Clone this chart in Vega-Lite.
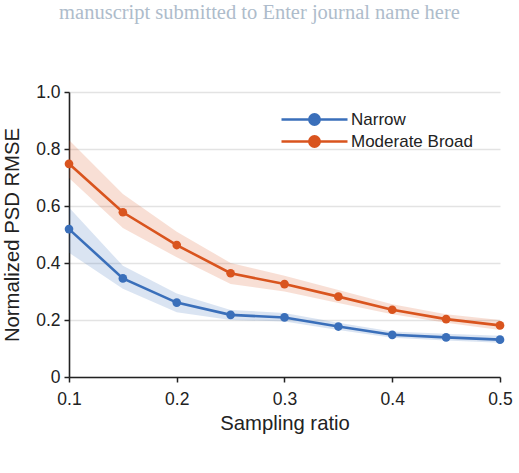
{
  "$schema": "https://vega.github.io/schema/vega-lite/v6.json",
  "width": 431,
  "height": 285,
  "autosize": "none",
  "padding": {"left": 69, "top": 92, "right": 19, "bottom": 96},
  "background": "white",
  "title": {
    "text": "manuscript submitted to Enter journal name here",
    "font": "Liberation Serif",
    "fontSize": 20.5,
    "fontWeight": "normal",
    "color": "#aebccb",
    "anchor": "middle",
    "dx": -25,
    "offset": 60
  },
  "config": {
    "view": {"stroke": null},
    "font": "Liberation Sans",
    "axis": {
      "labelFont": "Liberation Sans",
      "titleFont": "Liberation Sans",
      "labelFontSize": 17.5,
      "titleFontSize": 20.3,
      "labelColor": "#222",
      "titleColor": "#222",
      "titleFontWeight": "normal",
      "domainColor": "#222",
      "domainWidth": 1.6,
      "tickColor": "#222",
      "tickWidth": 1.5,
      "tickSize": 5,
      "gridColor": "#e3e3e3",
      "gridWidth": 1.5,
      "labelFlush": false,
      "labelOverlap": false
    }
  },
  "data": {
    "values": [
      {"ratio": 0.10, "group": "Narrow", "mean": 0.519, "lo": 0.436, "hi": 0.595},
      {"ratio": 0.15, "group": "Narrow", "mean": 0.346, "lo": 0.310, "hi": 0.390},
      {"ratio": 0.20, "group": "Narrow", "mean": 0.261, "lo": 0.227, "hi": 0.293},
      {"ratio": 0.25, "group": "Narrow", "mean": 0.218, "lo": 0.200, "hi": 0.235},
      {"ratio": 0.30, "group": "Narrow", "mean": 0.209, "lo": 0.195, "hi": 0.225},
      {"ratio": 0.35, "group": "Narrow", "mean": 0.177, "lo": 0.165, "hi": 0.190},
      {"ratio": 0.40, "group": "Narrow", "mean": 0.148, "lo": 0.138, "hi": 0.160},
      {"ratio": 0.45, "group": "Narrow", "mean": 0.139, "lo": 0.128, "hi": 0.152},
      {"ratio": 0.50, "group": "Narrow", "mean": 0.131, "lo": 0.120, "hi": 0.145},
      {"ratio": 0.10, "group": "Moderate Broad", "mean": 0.748, "lo": 0.698, "hi": 0.832},
      {"ratio": 0.15, "group": "Moderate Broad", "mean": 0.578, "lo": 0.523, "hi": 0.642},
      {"ratio": 0.20, "group": "Moderate Broad", "mean": 0.463, "lo": 0.420, "hi": 0.510},
      {"ratio": 0.25, "group": "Moderate Broad", "mean": 0.364, "lo": 0.326, "hi": 0.400},
      {"ratio": 0.30, "group": "Moderate Broad", "mean": 0.326, "lo": 0.300, "hi": 0.355},
      {"ratio": 0.35, "group": "Moderate Broad", "mean": 0.282, "lo": 0.260, "hi": 0.305},
      {"ratio": 0.40, "group": "Moderate Broad", "mean": 0.236, "lo": 0.220, "hi": 0.255},
      {"ratio": 0.45, "group": "Moderate Broad", "mean": 0.203, "lo": 0.190, "hi": 0.220},
      {"ratio": 0.50, "group": "Moderate Broad", "mean": 0.181, "lo": 0.165, "hi": 0.200}
    ]
  },
  "encoding": {
    "x": {
      "field": "ratio",
      "type": "quantitative",
      "scale": {"domain": [0.1, 0.5], "nice": false, "zero": false},
      "axis": {
        "title": "Sampling ratio",
        "values": [0.1, 0.2, 0.3, 0.4, 0.5],
        "format": ".1f",
        "grid": false,
        "labelPadding": 8,
        "titlePadding": 6
      }
    },
    "color": {
      "field": "group",
      "type": "nominal",
      "scale": {"domain": ["Narrow", "Moderate Broad"], "range": ["#3a6fba", "#d9541e"]},
      "legend": {
        "title": null,
        "orient": "none",
        "legendX": 234,
        "legendY": 16,
        "symbolType": "M-3.3,0H3.3M-0.52,0A0.52,0.52 0 1,0 0.52,0A0.52,0.52 0 1,0 -0.52,0Z",
        "symbolSize": 400,
        "symbolStrokeWidth": 2.5,
        "symbolOpacity": 1,
        "labelFont": "Liberation Sans",
        "labelFontSize": 17,
        "labelColor": "#222",
        "labelOffset": 25,
        "rowPadding": 0,
        "encode": {
          "symbols": {"update": {"fill": {"scale": "color", "field": "value"}, "stroke": {"scale": "color", "field": "value"}, "fillOpacity": {"value": 1}, "opacity": {"value": 1}}}
        }
      }
    }
  },
  "layer": [
    {
      "mark": {"type": "area", "opacity": 0.19},
      "encoding": {
        "y": {
          "field": "lo",
          "type": "quantitative",
          "scale": {"domain": [0, 1], "nice": false},
          "axis": {
            "title": "Normalized PSD RMSE",
            "values": [0, 0.2, 0.4, 0.6, 0.8, 1.0],
            "labelExpr": "datum.value == 0 ? '0' : format(datum.value, '.1f')",
            "grid": true,
            "labelPadding": 4,
            "titlePadding": 13
          }
        },
        "y2": {"field": "hi"}
      }
    },
    {
      "mark": {"type": "line", "strokeWidth": 2.6},
      "encoding": {
        "y": {"field": "mean", "type": "quantitative"}
      }
    },
    {
      "mark": {"type": "point", "filled": true, "size": 75, "opacity": 1},
      "encoding": {
        "y": {"field": "mean", "type": "quantitative"}
      }
    }
  ]
}
